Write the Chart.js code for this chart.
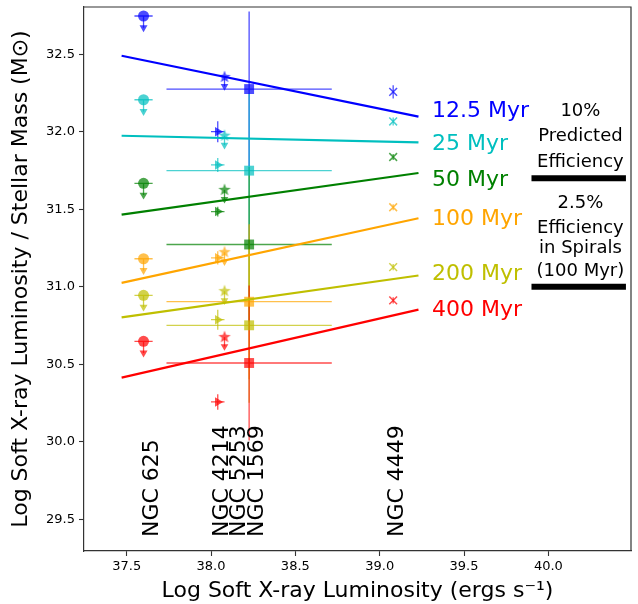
<!DOCTYPE html>
<html>
<head>
<meta charset="utf-8">
<script src="https://cdn.jsdelivr.net/npm/chart.js@4.4.1/dist/chart.umd.min.js"></script>
<style>
  html, body { margin: 0; padding: 0; background: #fff; }
  canvas { display: block; }
</style>
</head>
<body>
<canvas id="chart" width="638" height="604"></canvas>
<script>
// ======================================================
//                    DONNÉES
// ======================================================

const ages = ["12.5 Myr", "25 Myr", "50 Myr", "100 Myr", "200 Myr", "400 Myr"];
const ageColors = ["#0000ff", "#00bfbf", "#008000", "#ffa500", "#bfbf00", "#ff0000"];

const galaxies = ["NGC 625", "NGC 4214", "NGC 5253", "NGC 1569", "NGC 4449"];
const galaxyLogLx = [37.60, 38.04, 38.08, 38.226, 39.08];

// log Lx / M* for each age (same order as ages)
const ngc625 = [32.746, 32.206, 31.667, 31.181, 30.945, 30.649];
const ngc4214 = [32.00, 31.786, 31.485, 31.187, 30.788, 30.258];
const ngc5253 = [32.353, 31.974, 31.625, 31.223, 30.972, 30.676];
const ngc1569 = [32.275, 31.749, 31.273, 30.904, 30.752, 30.509];
const ngc4449 = [32.257, 32.066, 31.837, 31.513, 31.127, 30.913];

// error bars
const ngc625XErr = [0.054, 0.054, 0.054, 0.054, 0.054, 0.054];
const ngc625Limit = 0.075;
const ngc4214XErr = [0.04, 0.04, 0.04, 0.04, 0.04, 0.04];
const ngc4214YErr = [0.068, 0.045, 0.032, 0.043, 0.064, 0.05];
const ngc5253Limit = 0.06;
const ngc1569XErr = [0.49, 0.49, 0.49, 0.49, 0.49, 0.49];
const ngc1569YErr = [0.5, 0.5, 0.5, 0.5, 0.5, 0.5];
const ngc4449YErr = [0.043, 0.026, 0.02, 0.02, 0.02, 0.02];

// fits
const fitX = [37.47, 39.23];
const fitStart = [32.49, 31.974, 31.466, 31.026, 30.803, 30.415];
const fitEnd = [32.097, 31.931, 31.734, 31.442, 31.073, 30.853];

// efficiency markers
const effX = [39.9, 40.46];
const effY = [31.7, 31.0];

// ticks
const xTicks = [37.5, 38.0, 38.5, 39.0, 39.5, 40.0];
const yTicks = [29.5, 30.0, 30.5, 31.0, 31.5, 32.0, 32.5];

// ======================================================
//                 MISE EN PAGE TEXTES
// ======================================================

const FONT = "DejaVu Sans";
const ageLabelX = 39.31;
const ageLabelY = [32.148, 31.936, 31.704, 31.453, 31.093, 30.862];
const galaxyLabelX = [37.638, 38.052, 38.153, 38.26, 39.088];
const galaxyLabelBottom = 29.387;
const effTextX = 40.19;
const effText = [
    ["10%", 32.103], ["Predicted", 31.942], ["Efficiency", 31.775],
    ["2.5%", 31.511], ["Efficiency", 31.35], ["in Spirals", 31.221], ["(100 Myr)", 31.073]
];

function withAlpha(hex, a) {
    const n = parseInt(hex.slice(1), 16);
    return `rgba(${(n >> 16) & 255}, ${(n >> 8) & 255}, ${n & 255}, ${a})`;
}

const faded = ageColors.map(c => withAlpha(c, 0.7));

function starCanvas(color) {
    const c = document.createElement("canvas");
    c.width = 14;
    c.height = 14;
    const g = c.getContext("2d");
    g.fillStyle = color;
    g.beginPath();
    for (let k = 0; k < 10; k++) {
        const r = k % 2 === 0 ? 6.5 : 2.7;
        const a = -Math.PI / 2 + k * Math.PI / 5;
        g.lineTo(7 + r * Math.cos(a), 7 + r * Math.sin(a));
    }
    g.closePath();
    g.fill();
    return c;
}

function pts(gi, values, shift = 0) {
    return values.map(v => ({ x: galaxyLogLx[gi], y: v - shift }));
}

// ======================================================
//                    DATASETS
// ======================================================

const datasets = [];

ages.forEach((age, i) => {
    datasets.push({
        type: "line",
        label: age,
        data: [{ x: fitX[0], y: fitStart[i] }, { x: fitX[1], y: fitEnd[i] }],
        borderColor: ageColors[i],
        borderWidth: 2.2,
        pointRadius: 0,
        showLine: true,
        fill: false
    });
});

effY.forEach(v => {
    datasets.push({
        type: "line",
        label: "efficiency",
        data: [{ x: effX[0], y: v }, { x: effX[1], y: v }],
        borderColor: "#000",
        borderWidth: 6,
        pointRadius: 0,
        showLine: true,
        fill: false
    });
});

datasets.push(
    {
        label: galaxies[0],
        data: pts(0, ngc625),
        pointStyle: "circle", pointRadius: 5.5,
        backgroundColor: faded, borderWidth: 0,
        errX: ngc625XErr, limit: ngc625Limit
    },
    {
        label: galaxies[0] + " limit",
        data: pts(0, ngc625, ngc625Limit),
        pointStyle: "triangle", pointRotation: 180, pointRadius: 4.6,
        backgroundColor: faded, borderWidth: 0
    },
    {
        label: galaxies[1],
        data: pts(1, ngc4214),
        pointStyle: "triangle", pointRotation: 90, pointRadius: 5.5,
        backgroundColor: faded, borderWidth: 0,
        errX: ngc4214XErr, errY: ngc4214YErr
    },
    {
        label: galaxies[2],
        data: pts(2, ngc5253),
        pointStyle: faded.map(starCanvas), pointRadius: 6,
        backgroundColor: faded, borderWidth: 0,
        limit: ngc5253Limit
    },
    {
        label: galaxies[2] + " limit",
        data: pts(2, ngc5253, ngc5253Limit),
        pointStyle: "triangle", pointRotation: 180, pointRadius: 4.4,
        backgroundColor: faded, borderWidth: 0
    },
    {
        label: galaxies[3],
        data: pts(3, ngc1569),
        pointStyle: "rect", pointRadius: 7,
        backgroundColor: faded, borderWidth: 0,
        errX: ngc1569XErr, errY: ngc1569YErr
    },
    {
        label: galaxies[4],
        data: pts(4, ngc4449),
        pointStyle: "crossRot", pointRadius: 5.5,
        backgroundColor: faded, borderColor: faded, borderWidth: 1.5,
        errY: ngc4449YErr
    }
);

// ======================================================
//                    PLUGINS
// ======================================================

const errorBars = {
    id: "errorBars",
    beforeDatasetsDraw(chart) {
        const { ctx, scales: { x, y } } = chart;
        ctx.save();
        ctx.lineWidth = 1.3;
        chart.data.datasets.forEach(ds => {
            if (!ds.errX && !ds.errY && !ds.limit) return;
            ds.data.forEach((p, i) => {
                const px = x.getPixelForValue(p.x);
                const py = y.getPixelForValue(p.y);
                ctx.strokeStyle = faded[i];
                ctx.beginPath();
                if (ds.errX) {
                    ctx.moveTo(x.getPixelForValue(p.x - ds.errX[i]), py);
                    ctx.lineTo(x.getPixelForValue(p.x + ds.errX[i]), py);
                }
                if (ds.errY) {
                    ctx.moveTo(px, y.getPixelForValue(p.y - ds.errY[i]));
                    ctx.lineTo(px, y.getPixelForValue(p.y + ds.errY[i]));
                }
                if (ds.limit) {
                    ctx.moveTo(px, py);
                    ctx.lineTo(px, y.getPixelForValue(p.y - ds.limit));
                }
                ctx.stroke();
            });
        });
        ctx.restore();
    }
};

const annotations = {
    id: "annotations",
    afterDraw(chart) {
        const { ctx, chartArea: a, scales: { x, y } } = chart;
        ctx.save();

        // cadre haut / droite
        ctx.strokeStyle = "#333";
        ctx.lineWidth = 1.2;
        ctx.beginPath();
        ctx.moveTo(a.left, a.top);
        ctx.lineTo(a.right, a.top);
        ctx.lineTo(a.right, a.bottom);
        ctx.stroke();

        // étiquettes d'âge
        ctx.font = `22px "${FONT}"`;
        ctx.textAlign = "left";
        ctx.textBaseline = "alphabetic";
        ages.forEach((age, i) => {
            ctx.fillStyle = ageColors[i];
            ctx.fillText(age, x.getPixelForValue(ageLabelX), y.getPixelForValue(ageLabelY[i]) + 8);
        });

        // texte efficacité
        ctx.font = `18px "${FONT}"`;
        ctx.textAlign = "center";
        ctx.fillStyle = "#000";
        effText.forEach(([t, v]) => {
            ctx.fillText(t, x.getPixelForValue(effTextX), y.getPixelForValue(v));
        });

        // noms des galaxies
        ctx.font = `22px "${FONT}"`;
        ctx.textAlign = "left";
        galaxies.forEach((g, i) => {
            ctx.save();
            ctx.translate(x.getPixelForValue(galaxyLabelX[i]), y.getPixelForValue(galaxyLabelBottom));
            ctx.rotate(-Math.PI / 2);
            ctx.fillText(g, 0, 8);
            ctx.restore();
        });

        ctx.restore();
    }
};

// ======================================================
//                    GRAPHIQUE
// ======================================================

const tickFont = { family: FONT, size: 13 };
const titleFont = { family: FONT, size: 22 };

new Chart(document.getElementById("chart"), {
    type: "scatter",
    data: { datasets },
    options: {
        responsive: false,
        animation: false,
        events: [],
        layout: { padding: { top: 6, right: 6, left: 0, bottom: 0 } },
        plugins: { legend: { display: false }, tooltip: { enabled: false } },
        scales: {
            x: {
                type: "linear",
                min: 37.247,
                max: 40.49,
                afterBuildTicks: s => { s.ticks = xTicks.map(v => ({ value: v })); },
                afterFit: s => { s.height = 53; s.paddingLeft = 0; s.paddingRight = 0; },
                ticks: { font: tickFont, color: "#000", padding: 3, maxRotation: 0, autoSkip: false, callback: v => v.toFixed(1) },
                grid: { drawOnChartArea: false, drawTicks: true, tickLength: 5, color: "#333", tickWidth: 1.1 },
                border: { display: true, color: "#333", width: 1.2 },
                title: { display: true, text: "Log Soft X-ray Luminosity (ergs s\u207B\u00B9)", font: titleFont, color: "#000", padding: { top: 0, bottom: 0 } }
            },
            y: {
                type: "linear",
                min: 29.297,
                max: 32.804,
                afterBuildTicks: s => { s.ticks = yTicks.map(v => ({ value: v })); },
                afterFit: s => { s.width = 84; s.paddingTop = 0; s.paddingBottom = 0; },
                ticks: { font: tickFont, color: "#000", padding: 4, autoSkip: false, callback: v => v.toFixed(1) },
                grid: { drawOnChartArea: false, drawTicks: true, tickLength: 5, color: "#333", tickWidth: 1.1 },
                border: { display: true, color: "#333", width: 1.2 },
                title: { display: true, text: "Log Soft X-ray Luminosity / Stellar Mass (M\u2299)", font: titleFont, color: "#000", padding: { top: 8, bottom: 0 } }
            }
        }
    },
    plugins: [errorBars, annotations]
});
</script>
</body>
</html>
